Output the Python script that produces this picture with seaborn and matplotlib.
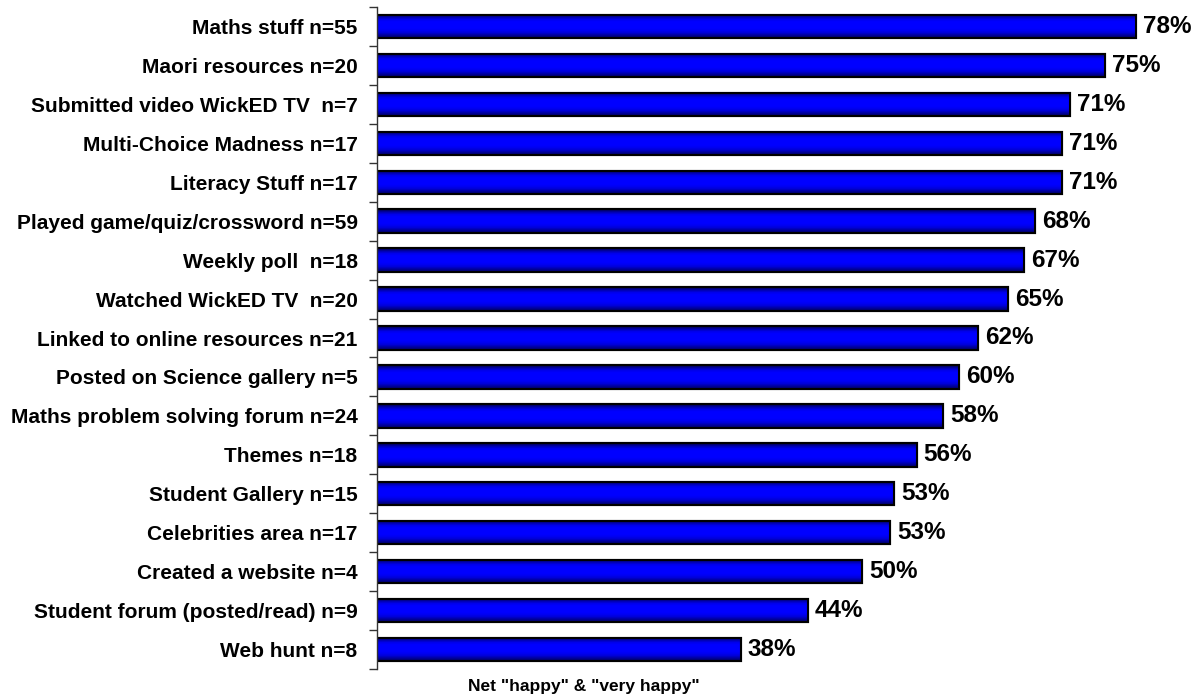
import numpy as np
import pandas as pd
import matplotlib
matplotlib.use("Agg")
import matplotlib.pyplot as plt
import seaborn as sns

categories = [
    "Maths stuff n=55",
    "Maori resources n=20",
    "Submitted video WickED TV  n=7",
    "Multi-Choice Madness n=17",
    "Literacy Stuff n=17",
    "Played game/quiz/crossword n=59",
    "Weekly poll  n=18",
    "Watched WickED TV  n=20",
    "Linked to online resources n=21",
    "Posted on Science gallery n=5",
    "Maths problem solving forum n=24",
    "Themes n=18",
    "Student Gallery n=15",
    "Celebrities area n=17",
    "Created a website n=4",
    "Student forum (posted/read) n=9",
    "Web hunt n=8",
]
values = [78.2, 75.0, 71.4, 70.6, 70.6, 67.8, 66.7, 65.0, 61.9, 60.0,
          58.3, 55.6, 53.3, 52.9, 50.0, 44.4, 37.5]
value_labels = ["78%", "75%", "71%", "71%", "71%", "68%", "67%", "65%", "62%",
                "60%", "58%", "56%", "53%", "53%", "50%", "44%", "38%"]
xlabel = 'Net "happy" & "very happy"'

sns.set_style("white")
plt.rcParams["font.family"] = ["Liberation Sans", "DejaVu Sans"]
plt.rcParams["text.color"] = "black"
plt.rcParams["ytick.labelcolor"] = "black"

df = pd.DataFrame({"cat": categories, "val": values})

W, H = 1202, 696
fig = plt.figure(figsize=(W / 100, H / 100), dpi=100)
ax = fig.add_axes([377 / W, 1 - 669 / H, (W - 377) / W, (669 - 7) / H])

sns.barplot(data=df, y="cat", x="val", orient="h", ax=ax, width=0.6,
            color="#0000ff", edgecolor="black", linewidth=1.5, saturation=1)

# gradient fill clipped to each bar
grad = np.array([0.40, 0.70, 0.92, 1.0, 1.0, 1.0, 1.0, 0.95, 0.85, 0.65, 0.45])
img = np.zeros((len(grad), 1, 3))
img[:, 0, 2] = grad
for p in ax.patches:
    x0, y0 = p.get_x(), p.get_y()
    w, h = p.get_width(), p.get_height()
    im = ax.imshow(img, extent=[x0, x0 + w, y0 + h, y0], aspect="auto",
                   interpolation="bilinear", zorder=p.get_zorder() + 0.1)
    im.set_clip_path(p)
    ax.add_patch(plt.Rectangle((x0, y0), w, h, fill=False, edgecolor="black",
                               linewidth=1.5, zorder=p.get_zorder() + 0.2))

ax.bar_label(ax.containers[0], labels=value_labels, padding=5,
             fontsize=17.5, fontweight="bold", color="black")

ax.set_xlim(0, 85)
ax.set_ylim(len(categories) - 0.5, -0.5)
ax.set_xlabel("")
ax.set_ylabel("")
ax.set_xticks([])
ax.set_yticks(range(len(categories)))
ax.set_yticklabels(categories, fontsize=15, fontweight="bold", color="black")
ax.tick_params(axis="y", which="major", length=0, pad=14)
ax.set_yticks(np.arange(-0.5, len(categories), 1.0), minor=True)
ax.tick_params(axis="y", which="minor", left=True, length=6, width=1,
               color="#333333", direction="out")
for s in ["top", "right", "bottom"]:
    ax.spines[s].set_visible(False)
ax.spines["left"].set_color("#333333")
ax.spines["left"].set_linewidth(1)

fig.text(584 / W, 1 - 686 / H, xlabel, ha="center", va="center",
         fontsize=12.5, fontweight="bold", color="black")

fig.savefig("out.png", dpi=100)
